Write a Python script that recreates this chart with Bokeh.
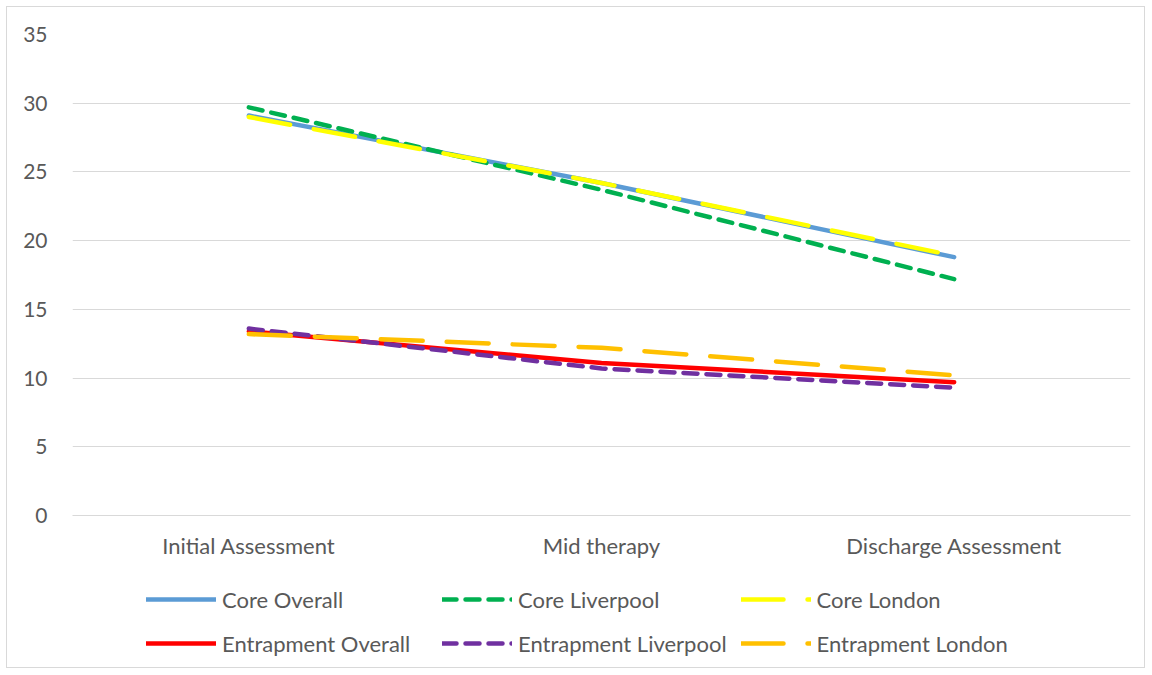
from bokeh.plotting import figure
from bokeh.layouts import column
from bokeh.models import Legend, LegendItem, FactorRange, Range1d
from bokeh.embed import file_html
from bokeh.resources import INLINE

# Assessment stages and mean scores per group
stages = ["Initial Assessment", "Mid therapy", "Discharge Assessment"]
core_overall = [29.1, 24.2, 18.8]
core_liverpool = [29.7, 23.7, 17.2]
core_london = [29.0, 24.2, 18.9]
entrapment_overall = [13.4, 11.1, 9.7]
entrapment_liverpool = [13.6, 10.7, 9.3]
entrapment_london = [13.2, 12.2, 10.2]
y_ticks = [0, 5, 10, 15, 20, 25, 30, 35]

FONT = "Lato"
TEXT = "#595959"
GRID = "#D9D9D9"
WIDTH = 1137

p = figure(width=WIDTH, height=570, x_range=FactorRange(*stages, range_padding=0),
           y_range=Range1d(0, 35), output_backend="svg", toolbar_location=None,
           min_border_left=65, min_border_right=14, min_border_top=27,
           min_border_bottom=62)
p.outline_line_color = None
p.background_fill_color = "white"
p.border_fill_color = "white"

# axes
p.yaxis.ticker = y_ticks
p.yaxis.axis_line_color = None
p.yaxis.major_tick_line_color = None
p.yaxis.minor_tick_line_color = None
p.yaxis.major_label_standoff = 19
p.yaxis.major_label_text_font = FONT
p.yaxis.major_label_text_font_size = "21px"
p.yaxis.major_label_text_color = TEXT

p.xaxis.axis_line_color = GRID
p.xaxis.major_tick_line_color = None
p.xaxis.minor_tick_line_color = None
p.xaxis.major_label_standoff = 10
p.xaxis.major_label_text_font = FONT
p.xaxis.major_label_text_font_size = "22px"
p.xaxis.major_label_text_color = TEXT

p.xgrid.grid_line_color = None
p.ygrid.grid_line_color = GRID
p.ygrid.grid_line_width = 1

series = [
    ("Core Overall", core_overall, "#5B9BD5", "solid"),
    ("Core Liverpool", core_liverpool, "#00B050", "14 9"),
    ("Core London", core_london, "#FFFF00", "42 24"),
    ("Entrapment Overall", entrapment_overall, "#FF0000", "solid"),
    ("Entrapment Liverpool", entrapment_liverpool, "#7030A0", "14 9"),
    ("Entrapment London", entrapment_london, "#FFC000", "42 24"),
]

line_style = dict(line_width=4.5, line_cap="round", line_join="round")
for label, vals, color, dash in series:
    p.line(stages, vals, line_color=color, line_dash=dash, **line_style)

# legend strip beneath the chart; each key is a line renderer holding a single
# undrawn (NaN) point, so only its style shows in the legend
nan = float("nan")
key = figure(width=WIDTH, height=90, output_backend="svg", toolbar_location=None,
             x_axis_type=None, y_axis_type=None,
             x_range=Range1d(0, 1), y_range=Range1d(0, 1),
             min_border_left=0, min_border_right=0, min_border_top=0,
             min_border_bottom=0)
key.outline_line_color = None
key.grid.grid_line_color = None
key.border_fill_color = "white"
items = []
for label, vals, color, dash in series:
    r = key.line(x=[nan], y=[nan], line_color=color, line_dash=dash, **line_style)
    items.append(LegendItem(label=label, renderers=[r]))

legend = Legend(items=items, orientation="horizontal", ncols=3,
                location=(74, 9), glyph_width=70, glyph_height=20,
                label_height=30, label_width=206, label_standoff=6,
                spacing=14, padding=0, margin=0,
                label_text_font=FONT, label_text_font_size="22px",
                label_text_color=TEXT, background_fill_alpha=0,
                border_line_color=None)
key.add_layout(legend, "center")

# thin light frame around the whole chart
layout = column(p, key, spacing=0, margin=(6, 0, 0, 6),
                styles={"border": "1px solid #D9D9D9"})

open("out.html", "w").write(file_html(layout, INLINE))
